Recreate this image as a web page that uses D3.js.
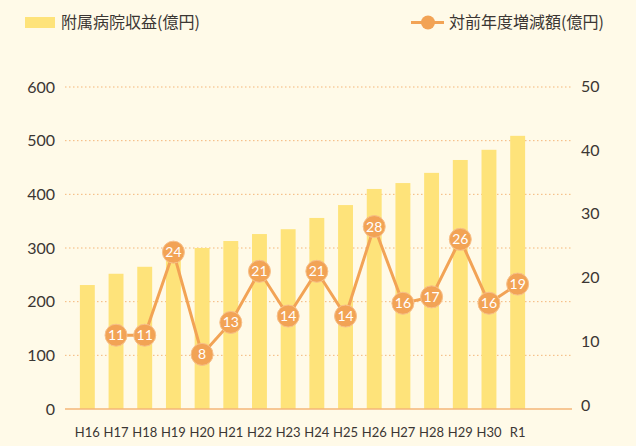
<!DOCTYPE html>
<html>
<head>
<meta charset="utf-8">
<script src="https://cdn.jsdelivr.net/npm/d3@7"></script>
<style>
  body { margin: 0; background: #fffae8; }
  svg { display: block; }
  .tickLabel { font-family: "Lato", "Noto Sans", sans-serif; fill: #3b3633; }
  .legendText { font-family: "Noto Sans CJK JP", sans-serif; font-size: 16px; fill: #3b3633; }
  .pointLabel { font-family: "Lato", "Noto Sans", sans-serif; font-size: 14px; fill: #fff; }
</style>
</head>
<body>
<div id="chart"></div>
<script>
const WIDTH = 636;
const HEIGHT = 446;
const BAR_COLOR = "#fee37a";
const LINE_COLOR = "#f2a355";
const GRID_COLOR = "#f4b679";

const years = ["H16", "H17", "H18", "H19", "H20", "H21", "H22", "H23", "H24", "H25", "H26", "H27", "H28", "H29", "H30", "R1"];
const revenue = [231, 252, 265, 285, 300, 313, 326, 335, 356, 380, 410, 421, 440, 464, 483, 509];
const changeYears = ["H17", "H18", "H19", "H20", "H21", "H22", "H23", "H24", "H25", "H26", "H27", "H28", "H29", "H30", "R1"];
const change = [11, 11, 24, 8, 13, 21, 14, 21, 14, 28, 16, 17, 26, 16, 19];
const leftTicks = [0, 100, 200, 300, 400, 500, 600];
const rightTicks = [0, 10, 20, 30, 40, 50];

let svg = d3.select("#chart").append("svg")
    .attr("width", WIDTH)
    .attr("height", HEIGHT);

let x = d3.scaleBand()
    .domain(years)
    .range([73, 532])
    .paddingInner(0.48)
    .paddingOuter(0.24);

let yLeft = d3.scaleLinear().domain([0, 600]).range([409, 87]);
let yRight = d3.scaleLinear().domain([0, 50]).range([405.5, 86]);

// grid lines
svg.append("g")
    .selectAll("line")
    .data(leftTicks.filter(d => d > 0))
    .join("line")
    .attr("x1", 65)
    .attr("x2", 572)
    .attr("y1", d => yLeft(d))
    .attr("y2", d => yLeft(d))
    .attr("stroke", GRID_COLOR)
    .attr("stroke-width", 1)
    .attr("stroke-dasharray", "1.5,2.5");

// left axis labels
svg.append("g")
    .selectAll("text")
    .data(leftTicks)
    .join("text")
    .attr("class", "tickLabel")
    .attr("x", 55)
    .attr("y", d => yLeft(d))
    .attr("dy", "0.35em")
    .attr("text-anchor", "end")
    .style("font-size", "16px")
    .text(d => d);

// right axis labels
svg.append("g")
    .selectAll("text")
    .data(rightTicks)
    .join("text")
    .attr("class", "tickLabel")
    .attr("x", 581)
    .attr("y", d => yRight(d))
    .attr("dy", "0.35em")
    .attr("text-anchor", "start")
    .style("font-size", "16px")
    .text(d => d);

// bars
svg.append("g")
    .selectAll("rect")
    .data(revenue)
    .join("rect")
    .attr("x", (d, i) => x(years[i]))
    .attr("y", d => yLeft(d))
    .attr("width", x.bandwidth())
    .attr("height", d => yLeft(0) - yLeft(d))
    .attr("fill", BAR_COLOR);

// baseline
svg.append("line")
    .attr("x1", 65)
    .attr("x2", 572)
    .attr("y1", yLeft(0))
    .attr("y2", yLeft(0))
    .attr("stroke", GRID_COLOR)
    .attr("stroke-width", 1.5);

// x labels
svg.append("g")
    .selectAll("text")
    .data(years)
    .join("text")
    .attr("class", "tickLabel")
    .attr("x", d => x(d) + x.bandwidth() / 2)
    .attr("y", 432)
    .attr("dy", "0.35em")
    .attr("text-anchor", "middle")
    .style("font-size", "13px")
    .text(d => d);

// line series
const cx = (d, i) => x(changeYears[i]) + x.bandwidth() / 2;
let line = d3.line()
    .x((d, i) => cx(d, i))
    .y(d => yRight(d));

svg.append("path")
    .datum(change)
    .attr("d", line)
    .attr("fill", "none")
    .attr("stroke", LINE_COLOR)
    .attr("stroke-width", 3);

let points = svg.append("g")
    .selectAll("g")
    .data(change)
    .join("g")
    .attr("transform", (d, i) => `translate(${cx(d, i)},${yRight(d)})`);

points.append("circle")
    .attr("r", 11)
    .attr("fill", LINE_COLOR)
    .attr("stroke", "#f7c08a")
    .attr("stroke-width", 1);

points.append("text")
    .attr("class", "pointLabel")
    .attr("text-anchor", "middle")
    .attr("dy", "0.36em")
    .text(d => d);

// legend
svg.append("rect")
    .attr("x", 25)
    .attr("y", 17)
    .attr("width", 30)
    .attr("height", 11)
    .attr("fill", BAR_COLOR);
svg.append("text")
    .attr("class", "legendText")
    .attr("x", 61)
    .attr("y", 22.5)
    .attr("dy", "0.35em")
    .text("附属病院収益(億円)");

svg.append("line")
    .attr("x1", 411)
    .attr("x2", 444)
    .attr("y1", 22.5)
    .attr("y2", 22.5)
    .attr("stroke", LINE_COLOR)
    .attr("stroke-width", 3);
svg.append("circle")
    .attr("cx", 428)
    .attr("cy", 22.5)
    .attr("r", 7)
    .attr("fill", LINE_COLOR);
svg.append("text")
    .attr("class", "legendText")
    .attr("x", 449)
    .attr("y", 22.5)
    .attr("dy", "0.35em")
    .text("対前年度増減額(億円)");
</script>
</body>
</html>
